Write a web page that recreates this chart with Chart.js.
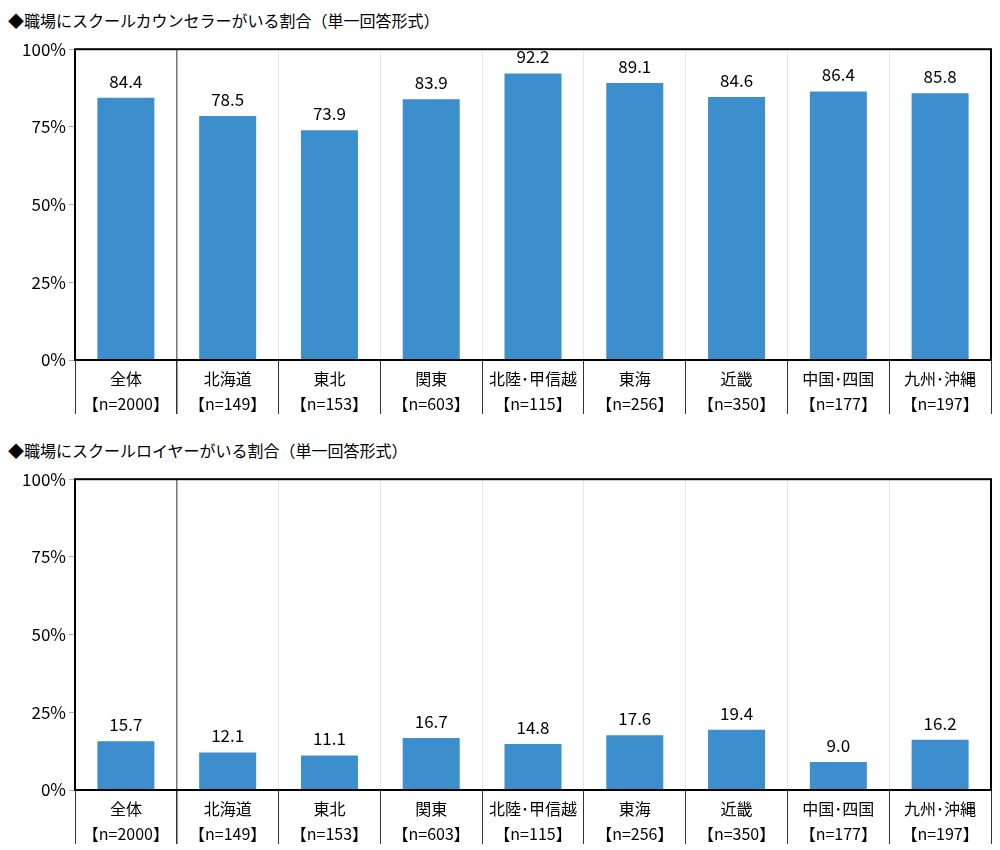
<!DOCTYPE html>
<html>
<head>
<meta charset="utf-8">
<script src="https://cdn.jsdelivr.net/npm/chart.js@4"></script>
<style>
  body { margin: 0; background: #fff; font-family: "Noto Sans CJK JP", sans-serif; }
  .title { position: absolute; left: 8px; font-size: 16px; color: #000; }
  .box { position: absolute; left: 0; width: 1000px; }
</style>
</head>
<body>
<div class="title" style="top:8px">◆職場にスクールカウンセラーがいる割合（単一回答形式）</div>
<div class="box" style="top:36px;height:384px"><canvas id="c1"></canvas></div>
<div class="title" style="top:438px">◆職場にスクールロイヤーがいる割合（単一回答形式）</div>
<div class="box" style="top:466px;height:384px"><canvas id="c2"></canvas></div>
<script>
const regions = ['全体', '北海道', '東北', '関東', '北陸･甲信越', '東海', '近畿', '中国･四国', '九州･沖縄'];
const counts = ['2000', '149', '153', '603', '115', '256', '350', '177', '197'];
const counselorData = [84.4, 78.5, 73.9, 83.9, 92.2, 89.1, 84.6, 86.4, 85.8];
const lawyerData = [15.7, 12.1, 11.1, 16.7, 14.8, 17.6, 19.4, 9.0, 16.2];
const yTicks = [0, 25, 50, 75, 100];

const labels = regions.map((r, i) => [r, '【n=' + counts[i] + '】']);
const font = { family: '"Noto Sans CJK JP", sans-serif', size: 16, lineHeight: 1.6 };

// 値ラベルと枠線
const extras = {
    id: 'extras',
    afterDatasetsDraw(chart) {
        const ctx = chart.ctx;
        const meta = chart.getDatasetMeta(0);
        ctx.save();
        ctx.fillStyle = '#000';
        ctx.font = '17px "Noto Sans CJK JP", sans-serif';
        ctx.textAlign = 'center';
        ctx.textBaseline = 'bottom';
        meta.data.forEach((bar, i) => {
            ctx.fillText(chart.data.datasets[0].data[i].toFixed(1), bar.x, bar.y - 8);
        });
        const a = chart.chartArea;
        ctx.strokeStyle = '#000';
        ctx.lineWidth = 2;
        ctx.strokeRect(a.left, a.top, a.right - a.left, a.bottom - a.top);
        ctx.restore();
    }
};

const createChart = (id, data) => {
    new Chart(document.getElementById(id), {
        type: 'bar',
        data: {
            labels: labels,
            datasets: [{ data: data, backgroundColor: '#3d8ecc', categoryPercentage: 1, barPercentage: 0.56 }]
        },
        options: {
            responsive: true,
            maintainAspectRatio: false,
            animation: false,
            layout: { padding: { right: 9, top: 12 } },
            plugins: { legend: { display: false }, tooltip: { enabled: false } },
            scales: {
                x: {
                    offset: true,
                    grid: {
                        offset: true,
                        tickLength: 54,
                        color: ctx => ctx.index === 1 ? '#777' : '#e6e6e6',
                        tickColor: '#333',
                        lineWidth: ctx => ctx.index === 1 ? 1.5 : 1
                    },
                    border: { display: false },
                    ticks: { color: '#000', font: font, padding: -48, maxRotation: 0, minRotation: 0, autoSkip: false },
                    afterFit: axis => { axis.height = 60; }
                },
                y: {
                    min: 0, max: 100,
                    afterBuildTicks: axis => { axis.ticks = yTicks.map(v => ({ value: v })); },
                    grid: { drawOnChartArea: false, tickLength: 6, color: '#aaa' },
                    border: { display: false },
                    ticks: { color: '#000', font: { family: font.family, size: 17 }, callback: v => v + '%' },
                    afterFit: axis => { axis.width = 75; }
                }
            }
        },
        plugins: [extras]
    });
};

createChart('c1', counselorData);
createChart('c2', lawyerData);
</script>
</body>
</html>
